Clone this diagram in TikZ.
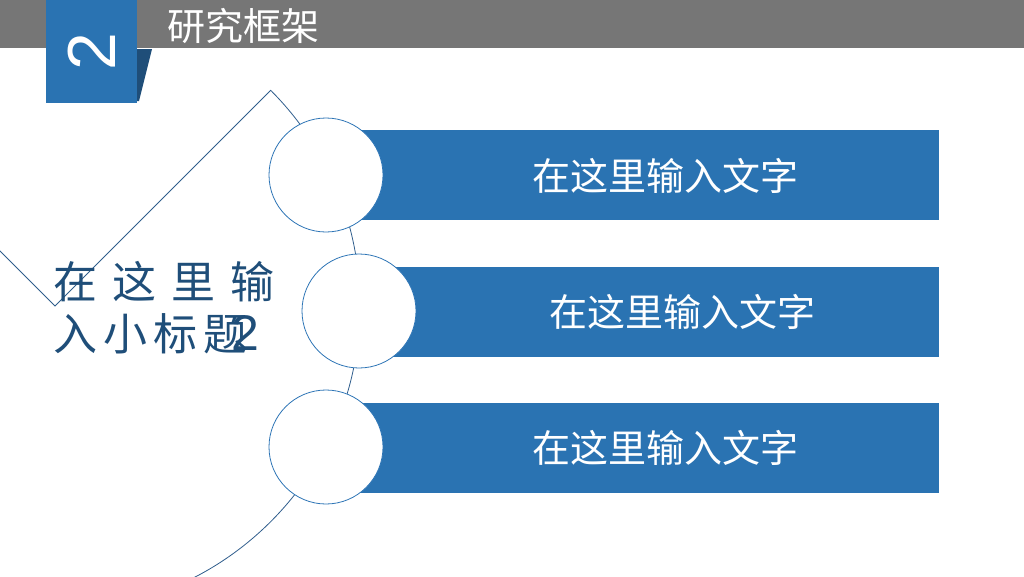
\documentclass[tikz,border=0pt]{standalone}
\usepackage{fontspec}
\setmainfont{Liberation Sans}
\newfontfamily\cjk{Noto Sans CJK SC}
\usetikzlibrary{positioning}
\definecolor{barblue}{HTML}{2A73B2}
\definecolor{deepblue}{HTML}{1F4E79}
\definecolor{headgray}{HTML}{767676}
\definecolor{ringblue}{HTML}{2E75B6}
\definecolor{lineblue}{HTML}{2F5D8C}

\begin{document}
\begin{tikzpicture}[x=1pt,y=-1pt,
  bar/.style={fill=barblue,inner sep=0pt,minimum height=90pt,anchor=east},
  ring/.style={circle,draw=ringblue,fill=white,line width=0.8pt,minimum size=114pt,inner sep=0pt},
  bartext/.style={text=white,inner sep=0pt,font=\cjk\fontsize{38}{40}\selectfont},
  subtitle/.style={text=deepblue,inner sep=0pt,anchor=base west,font=\cjk\fontsize{44}{48}\selectfont}]
  \useasboundingbox (0,0) rectangle (1024,576);
  \clip (0,0) rectangle (1024,576);
  % header
  \fill[headgray] (0,0) rectangle (1024,48);
  \fill[deepblue] (137,49) -- (152,49) -- (139,101) -- (137,101) -- cycle;
  \node[fill=barblue,minimum width=91pt,minimum height=103pt,anchor=north west,inner sep=0pt] (badge) at (46,0) {};
  \node[rotate=90,text=white,inner sep=0pt,font=\fontsize{68}{68}\selectfont] (num) at (badge.center) {2};
  \node[text=white,inner sep=0pt,anchor=west,font=\cjk\fontsize{38}{40}\selectfont] (title) at (167,26) {研究框架};
  % pie outline
  \coordinate (o) at (55,306);
  \draw[lineblue,line width=0.8pt] (o) -- ++(-45:305) arc[start angle=-45,end angle=225,radius=305] -- cycle;
  % bars
  \node[bar,minimum width=613pt] (r1) at (939,175) {};
  \node[bar,minimum width=580pt] (r2) at (939,312) {};
  \node[bar,minimum width=613pt] (r3) at (939,448) {};
  % rings
  \node[ring] (c1) at (326,175) {};
  \node[ring] (c2) at (359,311) {};
  \node[ring] (c3) at (326,447) {};
  % texts
  \node[bartext] (t1) at (665,176) {在这里输入文字};
  \node[bartext] (t2) at (682,312) {在这里输入文字};
  \node[bartext] (t3) at (665,448) {在这里输入文字};
  \node[subtitle] (s1) at (53,298) {在\hspace{15pt}这\hspace{15pt}里\hspace{15pt}输};
  \node[subtitle] (s2) at (53,350) {入\hspace{6pt}小\hspace{6pt}标\hspace{6pt}题\hspace{-16pt}{\rmfamily\fontsize{50}{50}\selectfont 2}};
\end{tikzpicture}
\end{document}
